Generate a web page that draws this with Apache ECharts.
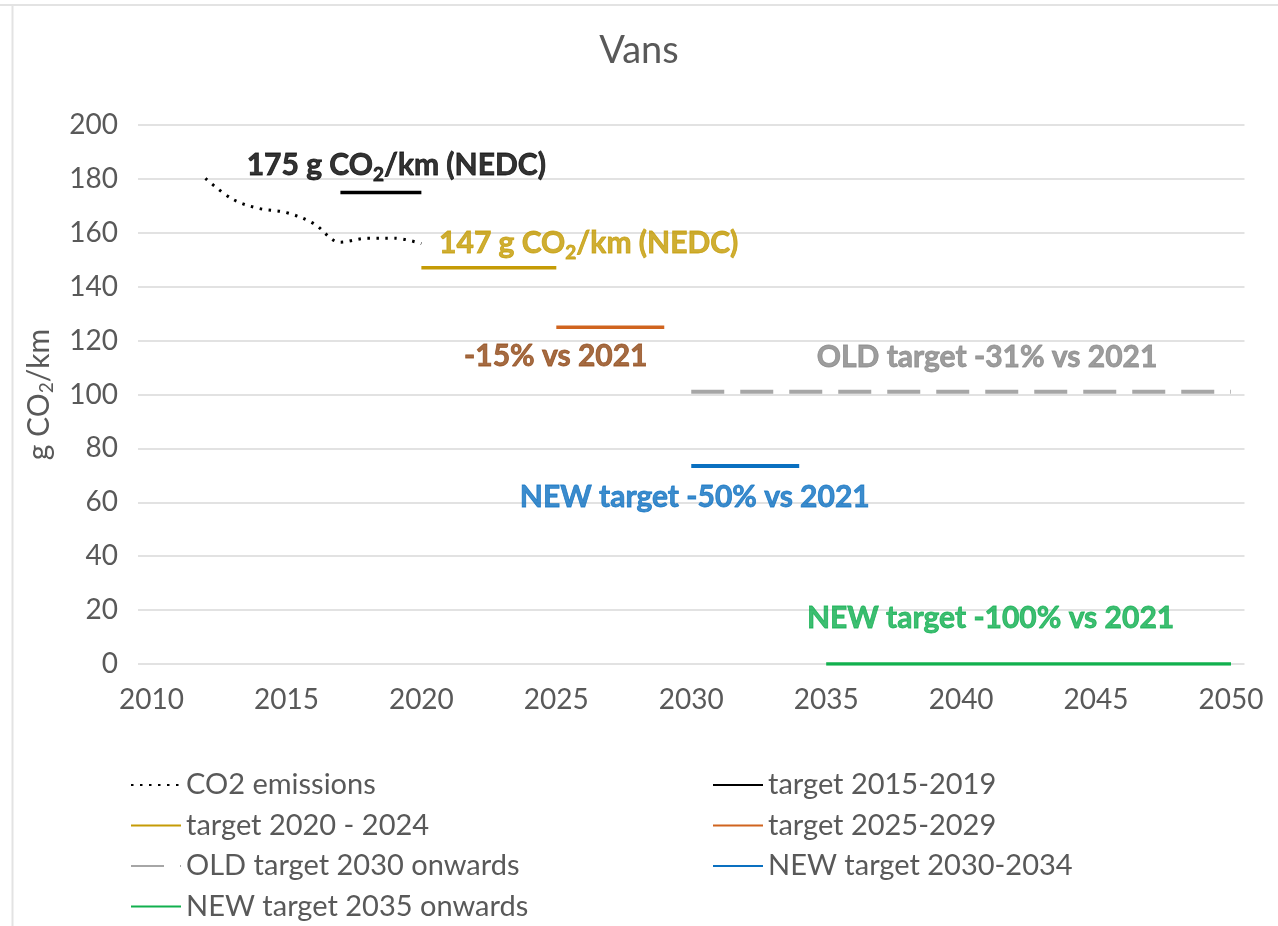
<!DOCTYPE html>
<html>
<head>
<meta charset="utf-8">
<script src="https://cdn.jsdelivr.net/npm/echarts@6/dist/echarts.min.js"></script>
<style>
html,body{margin:0;padding:0;background:#fff;}
#chart{width:1278px;height:926px;}
</style>
</head>
<body>
<div id="chart"></div>
<script>
// ---- data ----
const emissionYears = [2012, 2013, 2014, 2015, 2016, 2017, 2018, 2019, 2020];
const emissionValues = [180.2, 172.5, 169, 167.5, 163.5, 156.5, 158, 158, 156];

const targetNames = ['target 2015-2019', 'target 2020 - 2024', 'target 2025-2029',
  'OLD target 2030 onwards', 'NEW target 2030-2034', 'NEW target 2035 onwards'];
const targetStart = [2017, 2020, 2025, 2030, 2030, 2035];
const targetEnd = [2020, 2025, 2029, 2050, 2034, 2050];
const targetValues = [175, 147, 125, 101, 73.5, 0];

const xTickLabels = [2010, 2015, 2020, 2025, 2030, 2035, 2040, 2045, 2050];
const emissionName = 'CO2 emissions';

// ---- styles ----
const FONT = 'Lato, "Open Sans", sans-serif';
const targetColors = ['#000000', '#C59B06', '#D0641F', '#A6A6A6', '#0A70C0', '#12B04E'];
const targetLineTypes = ['solid', 'solid', 'solid', [33, 16], 'solid', 'solid'];
const targetWidths = [3.5, 3.5, 3.5, 4, 4, 3.5];

function rich(color, size) {
  const common = { fontFamily: FONT, fontWeight: 'bold', color: color, lineHeight: 38,
    textBorderWidth: 0.8, textBorderColor: color, textShadowBlur: 0 };
  return {
    b: Object.assign({}, common, { fontSize: size, verticalAlign: 'middle' }),
    s: Object.assign({}, common, { fontSize: Math.round(size * 0.62), verticalAlign: 'bottom' })
  };
}

const annotations = [
  { coord: [2019.07, 185.2], text: '{b|175 g CO}{s|2}{b|/km (NEDC)}', color: '#000000' },
  { coord: [2026.2, 156.2], text: '{b|147 g CO}{s|2}{b|/km (NEDC)}', color: '#C39A00' },
  { coord: [2024.98, 114.3], text: '{b|-15% vs 2021}', color: '#8F4613' },
  { coord: [2040.96, 113.9], text: '{b|OLD target -31% vs 2021}', color: '#858585' },
  { coord: [2030.13, 62], text: '{b|NEW target -50% vs 2021}', color: '#0B6FC0' },
  { coord: [2041.09, 17.1], text: '{b|NEW target -100% vs 2021}', color: '#0DAE4E' }
];

const series = [];
series.push({
  name: emissionName,
  type: 'line',
  data: emissionYears.map((y, i) => [y, emissionValues[i]]),
  smooth: 0.35,
  symbol: 'none',
  lineStyle: { color: '#000', width: 3, type: [2.5, 6.5] },
  itemStyle: { color: '#000' },
  z: 5
});
targetNames.forEach((name, i) => {
  series.push({
    name: name,
    type: 'line',
    data: [[targetStart[i], targetValues[i]], [targetEnd[i], targetValues[i]]],
    symbol: 'none',
    lineStyle: { color: targetColors[i], width: targetWidths[i], type: targetLineTypes[i] },
    itemStyle: { color: targetColors[i] },
    z: 4
  });
});
// text annotations
series.push({
  name: 'annotations',
  type: 'scatter',
  data: annotations.map(a => ({
    value: a.coord,
    label: { show: true, position: [0, 0], align: 'center', verticalAlign: 'middle',
      formatter: a.text, color: a.color, rich: rich(a.color, 30) }
  })),
  symbolSize: 0,
  itemStyle: { color: 'transparent' },
  silent: true,
  z: 6
});

const legendTextStyle = { fontFamily: FONT, fontSize: 29, color: '#595959', lineHeight: 30 };
const legendCommon = {
  orient: 'vertical', top: 770, height: 160, padding: 0,
  itemWidth: 50, itemHeight: 14, itemGap: 10.5,
  textStyle: legendTextStyle, selectedMode: false,
  itemStyle: { opacity: 0 }
};

const option = {
  backgroundColor: '#ffffff',
  animation: false,
  title: {
    text: 'Vans',
    left: 'center',
    top: 27,
    textStyle: { fontFamily: FONT, fontSize: 38, fontWeight: 'normal', color: '#595959' }
  },
  grid: { left: 138, right: 33.5, top: 125, bottom: 262, containLabel: false },
  legend: [
    Object.assign({}, legendCommon, {
      data: [emissionName, targetNames[1], targetNames[3], targetNames[5]],
      left: 130
    }),
    Object.assign({}, legendCommon, {
      data: [targetNames[0], targetNames[2], targetNames[4]],
      left: 712
    })
  ],
  xAxis: {
    type: 'value',
    min: 2009.5,
    max: 2050.5,
    splitLine: { show: false },
    axisLine: { show: false },
    axisTick: { show: false },
    axisLabel: {
      customValues: xTickLabels,
      fontFamily: FONT, fontSize: 28, color: '#595959', margin: 22,
      formatter: v => String(v)
    }
  },
  yAxis: {
    type: 'value',
    min: 0, max: 200, interval: 20,
    name: '{a|g CO}{s|2}{a|/km}',
    nameLocation: 'middle',
    nameRotate: 90,
    nameGap: 82,
    nameTextStyle: {
      rich: {
        a: { fontFamily: FONT, fontSize: 30, color: '#595959', lineHeight: 34, verticalAlign: 'middle' },
        s: { fontFamily: FONT, fontSize: 19, color: '#595959', lineHeight: 34, verticalAlign: 'bottom' }
      }
    },
    axisLine: { show: false },
    axisTick: { show: false },
    splitLine: { lineStyle: { color: '#D9D9D9', width: 1.5 } },
    axisLabel: { fontFamily: FONT, fontSize: 28, color: '#595959', margin: 20 }
  },
  graphic: [
    { type: 'line', shape: { x1: 0, y1: 5, x2: 1278, y2: 5 }, style: { stroke: '#E3E3E3', lineWidth: 2 }, silent: true },
    { type: 'line', shape: { x1: 12.5, y1: 5, x2: 12.5, y2: 926 }, style: { stroke: '#E3E3E3', lineWidth: 2 }, silent: true }
  ],
  series: series
};

const chart = echarts.init(document.getElementById('chart'), null, { renderer: 'canvas' });
chart.setOption(option);
</script>
</body>
</html>
